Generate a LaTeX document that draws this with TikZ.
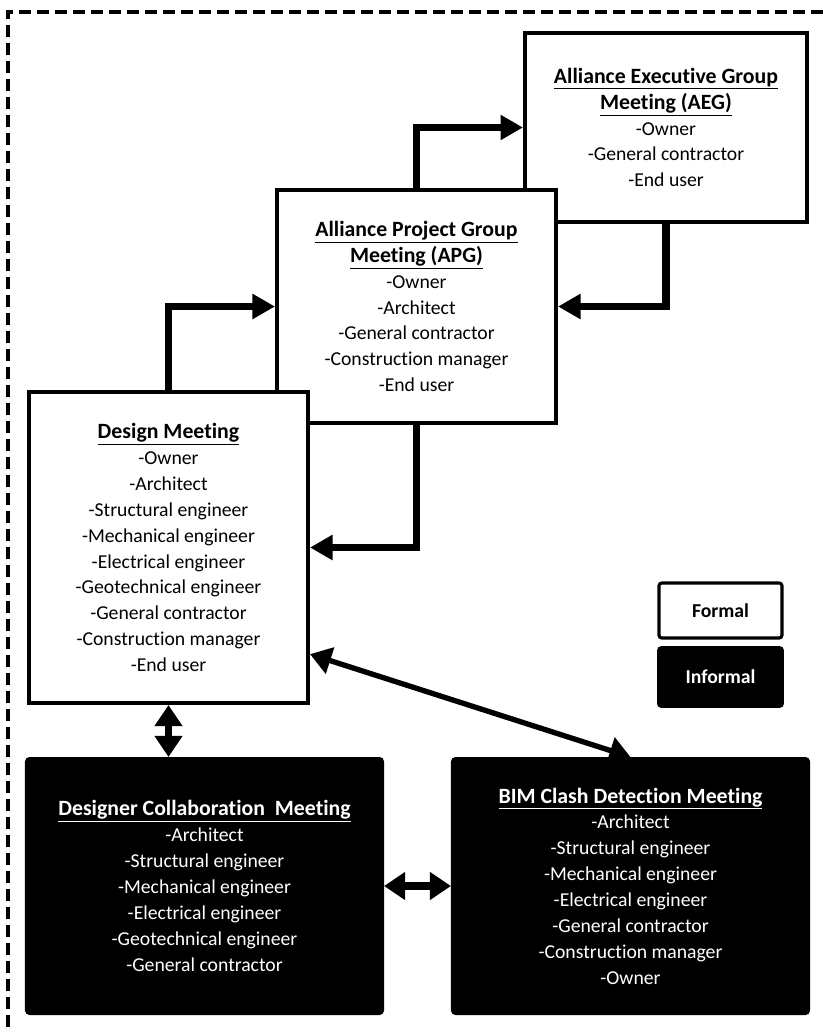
\documentclass[tikz,border=0pt]{standalone}
\usepackage{fontspec}
\setmainfont{Carlito}[Ligatures=NoCommon]
\usetikzlibrary{arrows.meta}
\def\boxfont{\fontsize{14pt}{18.4pt}\selectfont}
\def\ttlfont{\fontsize{15.5pt}{18.4pt}\selectfont}
\newcommand{\mtgtitle}[1]{{\ttlfont\underline{\textbf{#1}}}}
\tikzset{
  mtgbox/.style={line width=2.8pt, align=center, font=\boxfont, inner sep=2pt},
  formalbox/.style={mtgbox, draw=black, fill=white, text=black},
  informalbox/.style={mtgbox, draw=black, fill=black, text=white, rounded corners=2pt},
  elbowarrow/.style={line width=5.6pt, -{Triangle[length=16pt,width=17pt]}},
  bothwayarrow/.style={line width=5pt, {Triangle[length=15pt,width=19pt]}-{Triangle[length=15pt,width=19pt]}},
  frameline/.style={line width=2.5pt, dash pattern=on 8.5pt off 4.3pt},
}

\begin{document}
\begin{tikzpicture}[x=0.025cm, y=-0.025cm]
\useasboundingbox (0,0) rectangle (823,1027);

% ===================== FRAME =====================
\draw[frameline] (8,1027) -- (8,12) -- (823,12);

% ===================== FORMAL MEETINGS =====================
\node[formalbox, minimum width=7.05cm, minimum height=4.725cm] (aeg) at (666,127.5)
  {\mtgtitle{Alliance Executive Group}\\\mtgtitle{Meeting (AEG)}\\-Owner\\-General contractor\\-End user};
\node[formalbox, minimum width=6.975cm, minimum height=5.825cm] (apg) at (416.5,306.5)
  {\mtgtitle{Alliance Project Group}\\\mtgtitle{Meeting (APG)}\\-Owner\\-Architect\\-General contractor\\-Construction manager\\-End user};
\node[formalbox, minimum width=6.975cm, minimum height=7.775cm] (dm) at (168.5,547.5)
  {\mtgtitle{Design Meeting}\\-Owner\\-Architect\\-Structural engineer\\-Mechanical engineer\\-Electrical engineer\\-Geotechnical engineer\\-General contractor\\-Construction manager\\-End user};

% ===================== INFORMAL MEETINGS =====================
\node[informalbox, minimum width=8.875cm, minimum height=6.35cm] (dcm) at (204.5,886)
  {\mtgtitle{Designer Collaboration~~Meeting}\\-Architect\\-Structural engineer\\-Mechanical engineer\\-Electrical engineer\\-Geotechnical engineer\\-General contractor};
\node[informalbox, minimum width=8.875cm, minimum height=6.35cm] (bim) at (630.5,886)
  {\mtgtitle{BIM Clash Detection Meeting}\\-Architect\\-Structural engineer\\-Mechanical engineer\\-Electrical engineer\\-General contractor\\-Construction manager\\-Owner};

% ===================== LEGEND =====================
\node[formalbox, line width=2.2pt, rounded corners=2pt, minimum width=3.075cm, minimum height=1.375cm] (lgformal) at (720.5,610.5)
  {\textbf{Formal}};
\node[informalbox, minimum width=3.075cm, minimum height=1.45cm] (lginformal) at (720.5,677)
  {\textbf{Informal}};

% ===================== CONNECTORS =====================
\draw[elbowarrow] (dm.north) |- (apg.west);
\draw[elbowarrow] (apg.north) |- (aeg.west);
\draw[elbowarrow] (aeg.south) |- (apg.east);
\draw[elbowarrow] (apg.south) |- (dm.east);
\draw[bothwayarrow] (dm.south) -- (dm.south |- dcm.north);
\draw[bothwayarrow] (dcm.east) -- (bim.west);
\draw[bothwayarrow, line width=3.8pt] (dm.-37.6) -- (bim.north);

\end{tikzpicture}
\end{document}
